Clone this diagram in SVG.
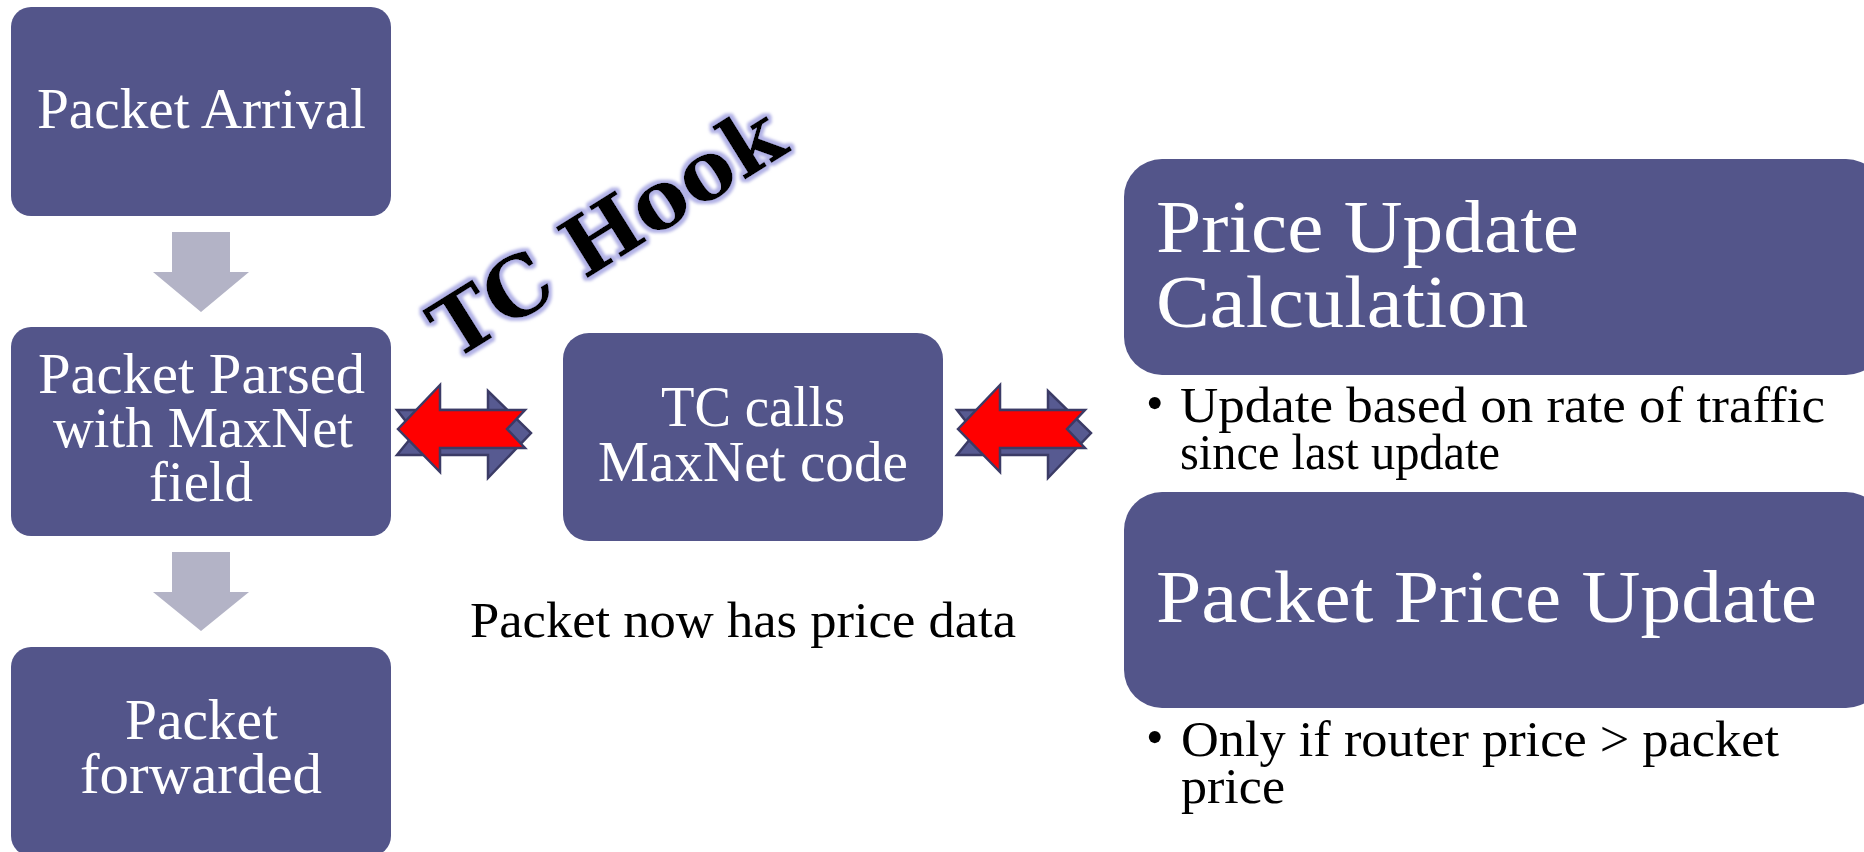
<svg xmlns="http://www.w3.org/2000/svg" width="1864" height="852" viewBox="0 0 1864 852">
  <style>
    .box { fill: #53558a; }
    .step { fill: #b3b3c6; }
    .lbl { font-family: "Liberation Serif", "Times New Roman", serif; fill: #ffffff; }
    .note { font-family: "Liberation Serif", "Times New Roman", serif; fill: #000000; }
    .hook { font-family: "DejaVu Serif", serif; font-weight: bold; font-size: 82px; fill: #000000; }
    .red { fill: #ff0000; stroke: #3b3b66; stroke-width: 2.5; stroke-linejoin: miter; }
    .back { fill: #575a91; stroke: #3b3b66; stroke-width: 2.5; stroke-linejoin: miter; }
  </style>
  <defs>
    <filter id="glow" x="-20%" y="-20%" width="140%" height="140%">
      <feMorphology in="SourceAlpha" operator="dilate" radius="3" result="d"/>
      <feGaussianBlur in="d" stdDeviation="1.6" result="b"/>
      <feFlood flood-color="#b2b2e6"/>
      <feComposite in2="b" operator="in" result="g"/>
      <feMerge>
        <feMergeNode in="g"/>
        <feMergeNode in="SourceGraphic"/>
      </feMerge>
    </filter>
    <!-- double-headed exchange arrow: purple right arrow behind a red left arrow -->
    <g id="swap">
      <polygon class="back" points="17,50 108,50 108,31 151,73 108,118 108,95 17,95 35,73"/>
      <polygon class="red" points="18,69 60,25 60,50 145,50 127,69 145,88 60,88 60,112"/>
    </g>
  </defs>

  <rect width="1864" height="852" fill="#ffffff"/>

  <!-- connectors -->
  <g id="connectors">
    <polygon class="step" points="172,232 230,232 230,272 249,272 201,312 153,272 172,272"/>
    <polygon class="step" points="172,552 230,552 230,592 249,592 201,631 153,592 172,592"/>
    <use href="#swap" transform="translate(380,360)"/>
    <use href="#swap" transform="translate(940,360)"/>
  </g>

  <!-- left column -->
  <g id="packet-arrival">
    <rect class="box" x="11" y="7" width="380" height="209" rx="20"/>
    <text class="lbl" x="37" y="128" font-size="56" textLength="329" lengthAdjust="spacingAndGlyphs">Packet Arrival</text>
  </g>
  <g id="packet-parsed">
    <rect class="box" x="11" y="327" width="380" height="209" rx="20"/>
    <text class="lbl" x="38" y="393" font-size="56" textLength="327" lengthAdjust="spacingAndGlyphs">Packet Parsed</text>
    <text class="lbl" x="53" y="447" font-size="56" textLength="300" lengthAdjust="spacingAndGlyphs">with MaxNet</text>
    <text class="lbl" x="149" y="501" font-size="56" textLength="104" lengthAdjust="spacingAndGlyphs">field</text>
  </g>
  <g id="packet-forwarded">
    <rect class="box" x="11" y="647" width="380" height="209" rx="20"/>
    <text class="lbl" x="125" y="739" font-size="56" textLength="153" lengthAdjust="spacingAndGlyphs">Packet</text>
    <text class="lbl" x="80" y="793" font-size="56" textLength="242" lengthAdjust="spacingAndGlyphs">forwarded</text>
  </g>

  <!-- middle -->
  <g id="tc-calls">
    <rect class="box" x="563" y="333" width="380" height="208" rx="26"/>
    <text class="lbl" x="661" y="426" font-size="56" textLength="184" lengthAdjust="spacingAndGlyphs">TC calls</text>
    <text class="lbl" x="598" y="481" font-size="56" textLength="310" lengthAdjust="spacingAndGlyphs">MaxNet code</text>
  </g>
  <g id="price-note">
    <text class="note" x="470" y="637" font-size="50" textLength="546" lengthAdjust="spacingAndGlyphs">Packet now has price data</text>
  </g>
  <g id="tc-hook" filter="url(#glow)">
    <text class="hook" x="0" y="30" text-anchor="middle" transform="translate(606,231) rotate(-32)">TC Hook</text>
  </g>

  <!-- right column -->
  <g id="price-update-calc">
    <rect class="box" x="1124" y="159" width="760" height="216" rx="38"/>
    <text class="lbl" x="1156" y="252" font-size="74" textLength="423" lengthAdjust="spacingAndGlyphs">Price Update</text>
    <text class="lbl" x="1156" y="327" font-size="74" textLength="372" lengthAdjust="spacingAndGlyphs">Calculation</text>
  </g>
  <g id="price-update-calc-note">
    <text class="note" x="1146" y="420" font-size="50">•</text>
    <text class="note" x="1180" y="422" font-size="50" textLength="645" lengthAdjust="spacingAndGlyphs">Update based on rate of traffic</text>
    <text class="note" x="1180" y="469" font-size="50" textLength="320" lengthAdjust="spacingAndGlyphs">since last update</text>
  </g>
  <g id="packet-price-update">
    <rect class="box" x="1124" y="492" width="760" height="216" rx="38"/>
    <text class="lbl" x="1156" y="622" font-size="74" textLength="661" lengthAdjust="spacingAndGlyphs">Packet Price Update</text>
  </g>
  <g id="packet-price-update-note">
    <text class="note" x="1146" y="754" font-size="50">•</text>
    <text class="note" x="1181" y="756" font-size="50" textLength="598" lengthAdjust="spacingAndGlyphs">Only if router price &gt; packet</text>
    <text class="note" x="1181" y="803" font-size="50" textLength="104" lengthAdjust="spacingAndGlyphs">price</text>
  </g>
</svg>
